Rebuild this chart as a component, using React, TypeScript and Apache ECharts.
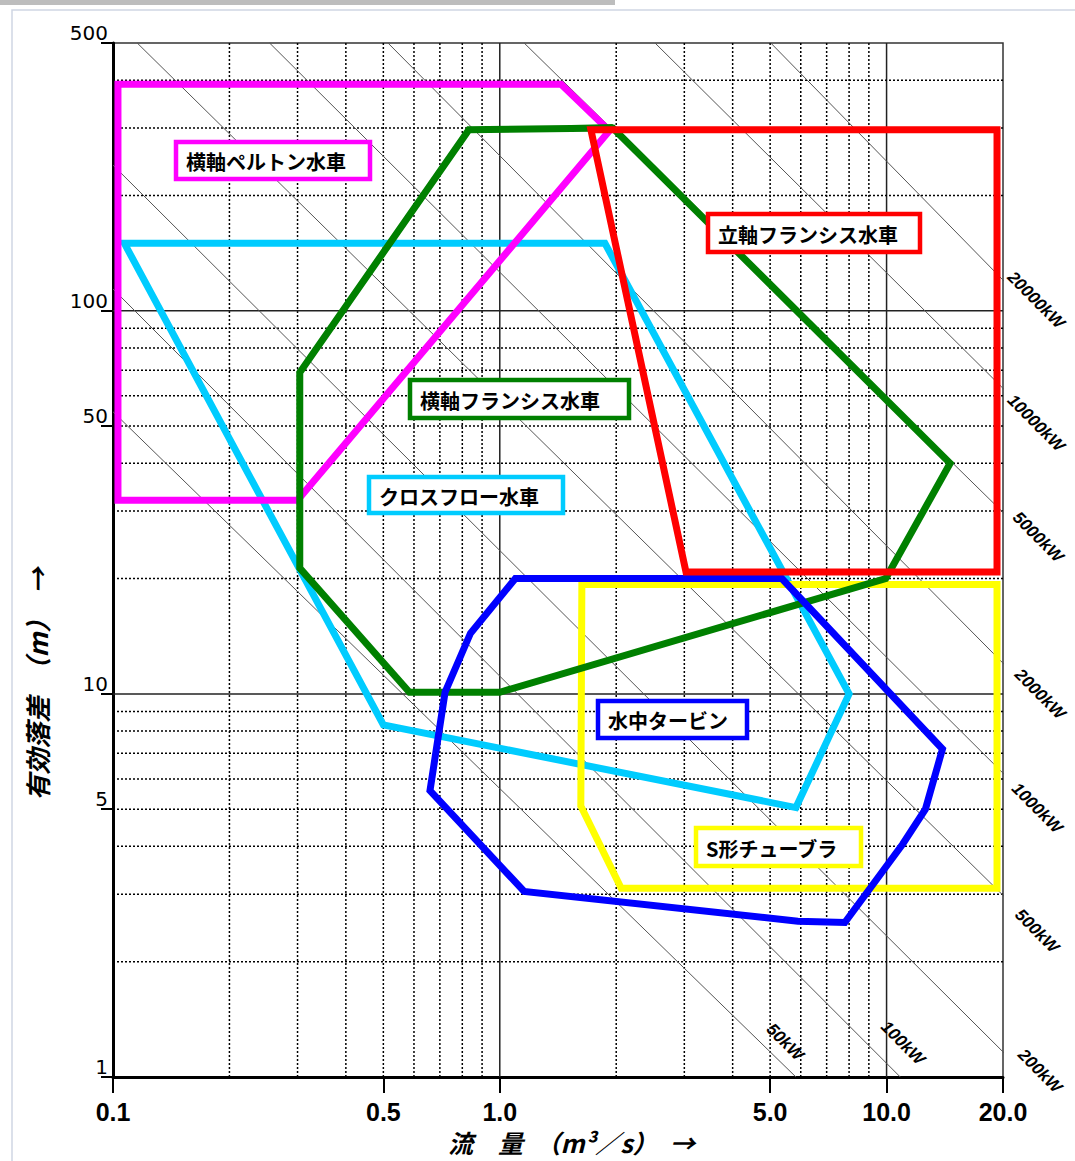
import React, { useEffect, useRef } from 'react';
import * as echarts from 'echarts';

// ---- axes ----
const X_TICK_LABELS = [0.1, 0.5, 1, 5, 10, 20];
const Y_TICK_LABELS = [1, 5, 10, 50, 100, 500];
const X_SOLID_LINES = [1, 10];
const X_DOTTED_LINES = [0.2, 0.3, 0.4, 0.5, 0.6, 0.7, 0.8, 0.9, 2, 3, 4, 5, 6, 7, 8, 9];
const Y_SOLID_LINES = [10, 100];
const Y_DOTTED_LINES = [2, 3, 4, 5, 6, 7, 8, 9, 20, 30, 40, 50, 60, 70, 80, 90, 200, 300, 400];

// ---- turbine application ranges [Q (m3/s), H (m)] ----
const CROSSFLOW = [[0.107, 150], [1.87, 150], [8.0, 10], [5.83, 5.05], [0.5, 8.3]];
const PELTON = [[0.103, 390], [1.44, 390], [1.92, 295], [0.3, 32], [0.103, 32]];
const TUBULAR = [[1.63, 19.3], [19.3, 19.3], [19.3, 3.11], [2.06, 3.11], [1.62, 5.1]];
const H_FRANCIS = [[0.832, 297], [1.96, 300], [14.6, 40], [9.95, 20], [1.0, 10.1], [0.584, 10.1], [0.304, 21.3], [0.304, 69]];
const SUBMERSIBLE = [[1.097, 20], [5.36, 20], [13.95, 7.18], [12.6, 5.0], [11.0, 4.05], [7.8, 2.53], [5.9, 2.55], [1.156, 3.05], [0.66, 5.59], [0.722, 10.1], [0.84, 14.4]];
const V_FRANCIS = [[1.72, 297], [19.3, 297], [19.3, 20.8], [3.03, 20.8]];

// ---- output lines ----
const POWER_LABELS = ['50kW', '100kW', '200kW', '500kW', '1000kW', '2000kW', '5000kW', '10000kW', '20000kW'];
const POWER_START = [[0.1, 54.5], [0.1, 114], [0.1, 240], [0.1155, 500], [0.254, 500], [0.514, 500], [1.156, 500], [2.52, 500], [5.02, 500]];
const POWER_END = [[5.83, 1], [10.85, 1], [27, 0.86], [29, 2.06], [28.9, 4.29], [29, 8.24], [29.3, 20.4], [29.3, 42.8], [29, 82]];

export default function App() {
  const ref = useRef<HTMLDivElement>(null);

  useEffect(() => {
    const chart = echarts.init(ref.current as HTMLDivElement, undefined, { renderer: 'svg' });

    const dotted = { color: '#000', width: 1.5, type: [2, 2] };
    const solid = { color: '#222', width: 1.5, type: 'solid' };
    const gridSeries: any[] = [];
    X_DOTTED_LINES.forEach((v) => gridSeries.push({ data: [[v, 1], [v, 500]], lineStyle: dotted }));
    X_SOLID_LINES.forEach((v) => gridSeries.push({ data: [[v, 1], [v, 500]], lineStyle: solid }));
    Y_DOTTED_LINES.forEach((v) => gridSeries.push({ data: [[0.1, v], [20, v]], lineStyle: dotted }));
    Y_SOLID_LINES.forEach((v) => gridSeries.push({ data: [[0.1, v], [20, v]], lineStyle: solid }));

    const polys = [
      { name: 'クロスフロー水車', data: CROSSFLOW, color: '#00ccff' },
      { name: '横軸ペルトン水車', data: PELTON, color: '#ff00ff' },
      { name: 'S形チューブラ', data: TUBULAR, color: '#ffff00' },
      { name: '横軸フランシス水車', data: H_FRANCIS, color: '#008000' },
      { name: '水中タービン', data: SUBMERSIBLE, color: '#0000ff' },
      { name: '立軸フランシス水車', data: V_FRANCIS, color: '#ff0000' },
    ];

    const boxes = [
      { text: '横軸ペルトン水車', color: '#ff00ff', l: 174, t: 140, w: 198, h: 41 },
      { text: '立軸フランシス水車', color: '#ff0000', l: 706, t: 212, w: 216, h: 42 },
      { text: '横軸フランシス水車', color: '#008000', l: 408, t: 378, w: 223, h: 42 },
      { text: 'クロスフロー水車', color: '#00ccff', l: 367, t: 475, w: 198, h: 40 },
      { text: '水中タービン', color: '#0000ff', l: 596, t: 699, w: 153, h: 41 },
      { text: 'S形チューブラ', color: '#ffff00', l: 694, t: 826, w: 169, h: 42 },
    ];

    const kwPos = [[785, 1042], [903, 1043], [1040, 1071], [1037, 931], [1037, 808], [1040, 694], [1038, 537], [1036, 423], [1036, 300]];

    const graphic: any[] = [
      { type: 'rect', shape: { x: 0, y: 0, width: 615, height: 5 }, style: { fill: '#bdbdbd' }, silent: true },
      { type: 'rect', shape: { x: 12, y: 10, width: 1100, height: 1200 }, style: { fill: 'none', stroke: '#cfd6e4', lineWidth: 1.5 }, silent: true },
    ];
    boxes.forEach((b) => {
      graphic.push({
        type: 'rect', z: 100,
        shape: { x: b.l + 2, y: b.t + 2, width: b.w - 4, height: b.h - 4 },
        style: { fill: '#fff', stroke: b.color, lineWidth: 4.5 },
      });
      graphic.push({
        type: 'text', z: 101, x: b.l + 12, y: b.t + b.h / 2 + 1,
        style: {
          text: b.text, fill: '#000', fontSize: 20, fontWeight: 'bold', fontFamily: '"Noto Sans CJK JP"',
          textAlign: 'left', textVerticalAlign: 'middle',
        },
      });
    });
    POWER_LABELS.forEach((t, i) => {
      graphic.push({
        type: 'text', z: 50, x: kwPos[i][0], y: kwPos[i][1], rotation: -Math.PI / 4,
        style: {
          text: t, fill: '#000', fontSize: 17, fontWeight: 'bold', fontStyle: 'italic',
          fontFamily: '"Liberation Sans Narrow", "Liberation Sans", Arial, sans-serif',
          textAlign: 'center', textVerticalAlign: 'middle',
        },
      });
    });
    graphic.push({
      type: 'text', z: 50, x: 448, y: 1142,
      style: {
        text: '流　量　（m³／s）　→', fill: '#000', fontSize: 25, fontWeight: 'bold', fontStyle: 'italic',
        fontFamily: '"Noto Sans CJK JP"', textAlign: 'left', textVerticalAlign: 'middle',
      },
    });
    graphic.push({
      type: 'text', z: 50, x: 36, y: 684, rotation: Math.PI / 2,
      style: {
        text: '有効落差　（m）　→', fill: '#000', fontSize: 26, fontWeight: 'bold', fontStyle: 'italic',
        fontFamily: '"Noto Sans CJK JP"', textAlign: 'center', textVerticalAlign: 'middle',
      },
    });

    const option: any = {
      animation: false,
      grid: { left: 113, top: 43, width: 890, height: 1034, show: true, borderColor: '#333', borderWidth: 1.5, backgroundColor: 'transparent' },
      xAxis: {
        type: 'log', logBase: 10, min: 0.1, max: 20,
        axisLine: { show: true, lineStyle: { color: '#000', width: 3 } },
        axisTick: { show: true, customValues: X_TICK_LABELS, length: 16, lineStyle: { color: '#000', width: 2 } },
        axisLabel: {
          customValues: X_TICK_LABELS, margin: 22, fontSize: 25, fontWeight: 'bold', color: '#000',
          fontFamily: '"Liberation Sans", Arial, sans-serif',
          formatter: (v: number) => Number(v).toFixed(1),
        },
        splitLine: { show: false },
        minorTick: { show: false },
      },
      yAxis: {
        type: 'log', logBase: 10, min: 1, max: 500,
        axisLine: { show: true, lineStyle: { color: '#000', width: 3 } },
        axisTick: { show: true, customValues: Y_TICK_LABELS, length: 12, lineStyle: { color: '#000', width: 2 } },
        axisLabel: {
          customValues: Y_TICK_LABELS, margin: 5, fontSize: 20, color: '#000', verticalAlign: 'bottom',
          fontFamily: '"DejaVu Sans", sans-serif',
          formatter: (v: number) => String(Math.round(Number(v))),
        },
        splitLine: { show: false },
        minorTick: { show: false },
      },
      series: [
        ...gridSeries.map((g) => ({
          type: 'line', data: g.data, symbol: 'none', silent: true, z: 1, lineStyle: g.lineStyle,
        })),
        ...POWER_LABELS.map((name, i) => ({
          type: 'line', name, data: [POWER_START[i], POWER_END[i]], symbol: 'none', clip: false, silent: true, z: 2,
          lineStyle: { color: '#555', width: 1 },
        })),
        ...polys.map((p, i) => ({
          type: 'line', name: p.name, data: [...p.data, p.data[0], p.data[1]], symbol: 'none', silent: true, z: 3 + i,
          lineStyle: { color: p.color, width: 7, join: 'miter' },
        })),
      ],
      graphic,
    };
    chart.setOption(option);
    return () => chart.dispose();
  }, []);

  return <div ref={ref} style={{ position: 'absolute', left: 0, top: 0, width: 1075, height: 1161, background: '#fff' }} />;
}
